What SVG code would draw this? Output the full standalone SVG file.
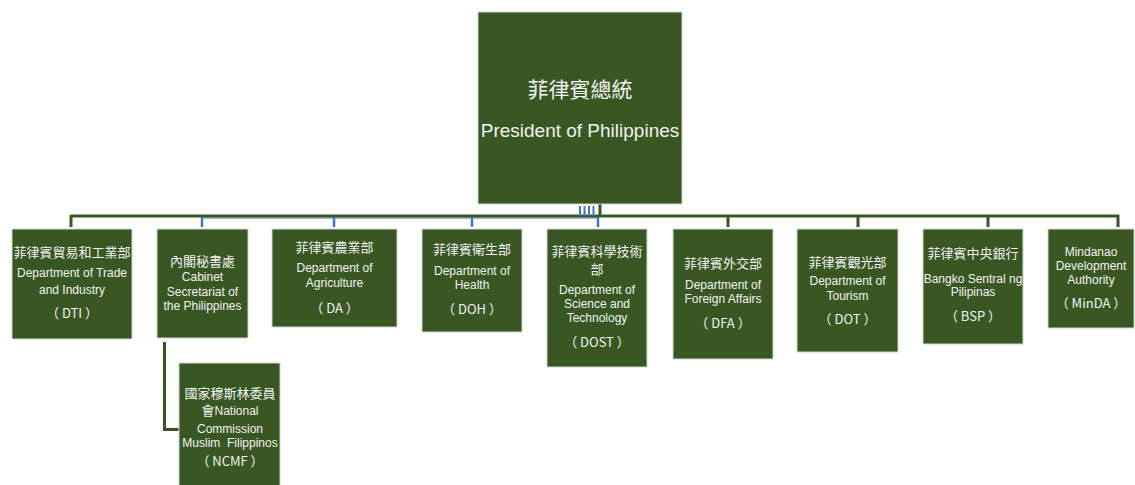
<svg xmlns="http://www.w3.org/2000/svg" width="1135" height="485" viewBox="0 0 1135 485">
<style>
.box{fill:#385723;stroke:#D0D5CC;stroke-width:1}
.t{fill:#F2F2F2;font-family:"Liberation Sans","Noto Sans CJK TC",sans-serif;font-size:12px;text-anchor:middle}
.c{fill:#F2F2F2;font-family:"Noto Sans CJK TC","Liberation Sans",sans-serif;font-size:13px;text-anchor:middle}
.g{stroke:#375623;stroke-width:3;fill:none}
.b{stroke:#4472C4;stroke-width:2.5;fill:none}
</style>
<rect width="1135" height="485" fill="#FFFFFF"/>
<g id="connectors">
<line class="b" x1="202" y1="218" x2="598" y2="218" style="stroke-width:1.2"/>
<line class="g" x1="71" y1="216" x2="1119" y2="216"/>
<line class="g" x1="600" y1="204" x2="600" y2="216"/>
<line class="b" x1="580" y1="206" x2="580" y2="216" style="stroke-width:2"/>
<line class="b" x1="584.5" y1="206" x2="584.5" y2="216" style="stroke-width:2"/>
<line class="b" x1="589" y1="206" x2="589" y2="216" style="stroke-width:2"/>
<line class="b" x1="593.5" y1="206" x2="593.5" y2="216" style="stroke-width:2"/>
<line class="g" x1="71" y1="215" x2="71" y2="227"/>
<line class="b" x1="202" y1="217" x2="202" y2="227"/>
<line class="b" x1="334" y1="217" x2="334" y2="227"/>
<line class="b" x1="472" y1="217" x2="472" y2="227"/>
<line class="b" x1="598" y1="217" x2="598" y2="227"/>
<line class="g" x1="728" y1="216" x2="728" y2="227"/>
<line class="g" x1="858" y1="216" x2="858" y2="227"/>
<line class="g" x1="988" y1="216" x2="988" y2="227"/>
<line class="g" x1="1118" y1="215" x2="1118" y2="227"/>
<polyline class="g" points="164.5,342 164.5,429.5 179,429.5"/>
</g>
<g id="president">
<rect class="box" x="478" y="12" width="204" height="192"/>
<text class="c" x="580" y="97" style="font-size:21px">菲律賓總統</text>
<text class="t" x="580" y="137" style="font-size:19px">President of Philippines</text>
</g>
<g id="dti">
<rect class="box" x="12" y="229" width="120" height="110"/>
<text class="c" x="72" y="257">菲律賓貿易和工業部</text>
<text class="t" x="72" y="277">Department of Trade</text>
<text class="t" x="72" y="294">and Industry</text>
<text class="c" x="72" y="318">（ DTI ）</text>
</g>
<g id="cabinet">
<rect class="box" x="157" y="229" width="91" height="109"/>
<text class="c" x="202.5" y="266">內閣秘書處</text>
<text class="t" x="202.5" y="281">Cabinet</text>
<text class="t" x="202.5" y="296">Secretariat of</text>
<text class="t" x="202.5" y="310">the Philippines</text>
</g>
<g id="ncmf">
<rect class="box" x="179" y="363" width="101" height="125"/>
<text class="c" x="230" y="398">國家穆斯林委員</text>
<text class="t" x="230" y="415"><tspan style="font-family:'Noto Sans CJK TC',sans-serif;font-size:13px">會</tspan>National</text>
<text class="t" x="230" y="433">Commission</text>
<text class="t" x="230" y="447" xml:space="preserve">Muslim  Filippinos</text>
<text class="c" x="230" y="466">（ NCMF ）</text>
</g>
<g id="da">
<rect class="box" x="272" y="229" width="125" height="98"/>
<text class="c" x="334.5" y="252">菲律賓農業部</text>
<text class="t" x="334.5" y="272">Department of</text>
<text class="t" x="334.5" y="287">Agriculture</text>
<text class="c" x="334.5" y="313">（ DA ）</text>
</g>
<g id="doh">
<rect class="box" x="422" y="229" width="100" height="103"/>
<text class="c" x="472" y="254">菲律賓衛生部</text>
<text class="t" x="472" y="275">Department of</text>
<text class="t" x="472" y="289">Health</text>
<text class="c" x="472" y="314">（ DOH ）</text>
</g>
<g id="dost">
<rect class="box" x="547" y="229" width="100" height="138"/>
<text class="c" x="597" y="256">菲律賓科學技術</text>
<text class="c" x="597" y="274">部</text>
<text class="t" x="597" y="294">Department of</text>
<text class="t" x="597" y="308">Science and</text>
<text class="t" x="597" y="322">Technology</text>
<text class="c" x="597" y="347">（ DOST ）</text>
</g>
<g id="dfa">
<rect class="box" x="673" y="229" width="100" height="130"/>
<text class="c" x="723" y="268">菲律賓外交部</text>
<text class="t" x="723" y="289">Department of</text>
<text class="t" x="723" y="303">Foreign Affairs</text>
<text class="c" x="723" y="328">（ DFA ）</text>
</g>
<g id="dot">
<rect class="box" x="797" y="229" width="101" height="123"/>
<text class="c" x="847.5" y="267">菲律賓觀光部</text>
<text class="t" x="847.5" y="285">Department of</text>
<text class="t" x="847.5" y="300">Tourism</text>
<text class="c" x="847.5" y="324">（ DOT ）</text>
</g>
<g id="bsp">
<rect class="box" x="923" y="229" width="100" height="115"/>
<text class="c" x="973" y="258">菲律賓中央銀行</text>
<text class="t" x="973" y="283">Bangko Sentral ng</text>
<text class="t" x="973" y="296">Pilipinas</text>
<text class="c" x="973" y="321">（ BSP ）</text>
</g>
<g id="minda">
<rect class="box" x="1048" y="229" width="86" height="99"/>
<text class="t" x="1091" y="256">Mindanao</text>
<text class="t" x="1091" y="270">Development</text>
<text class="t" x="1091" y="284">Authority</text>
<text class="c" x="1091" y="308">（ MinDA ）</text>
</g>
</svg>
